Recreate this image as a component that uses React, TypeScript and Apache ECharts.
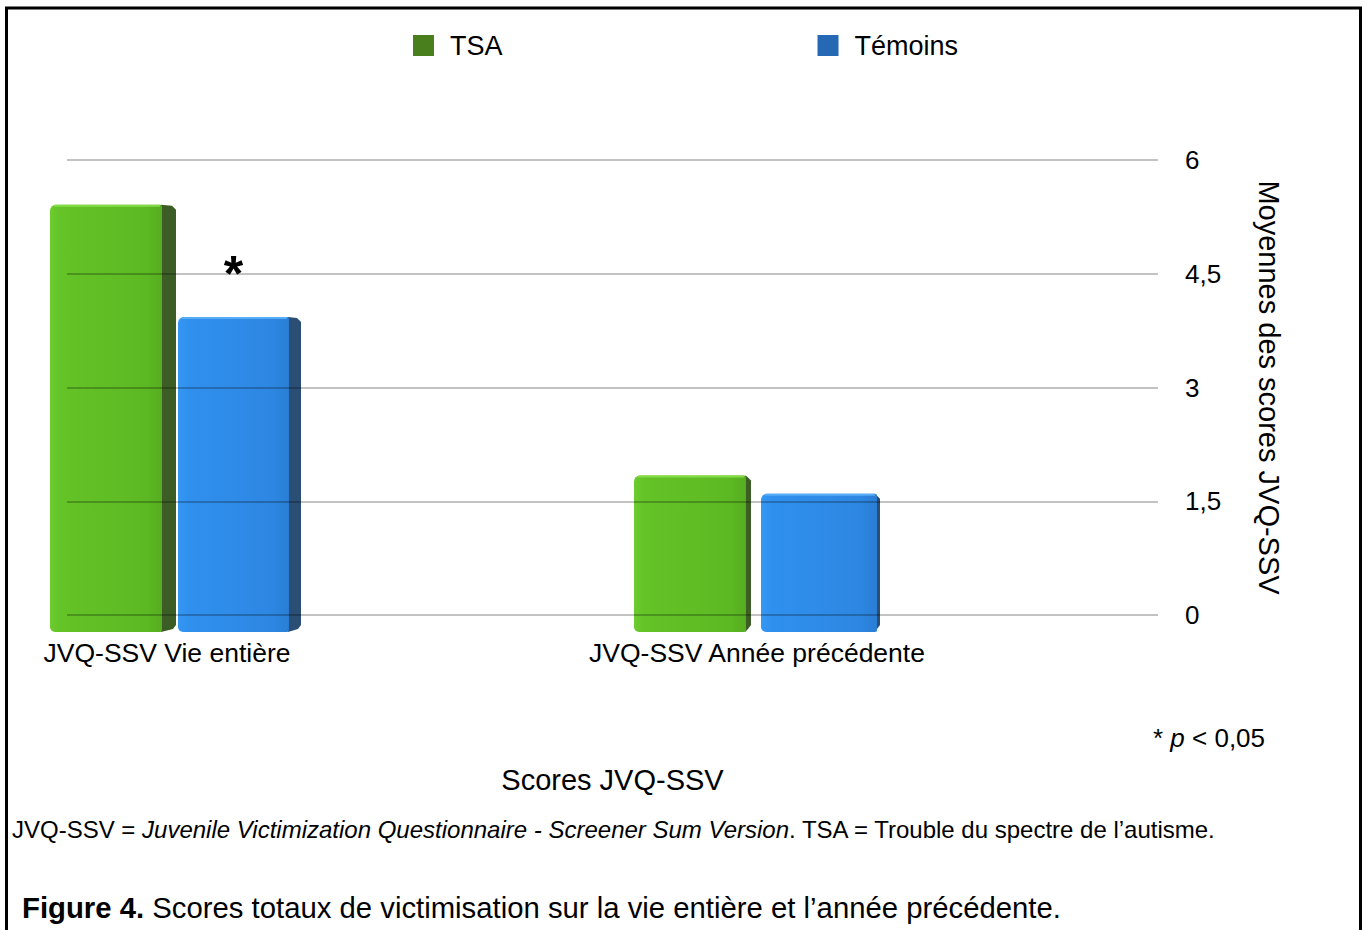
import React, { useEffect, useRef } from 'react';
import * as echarts from 'echarts';

// ---- data ----
const CATEGORIES = ['JVQ-SSV Vie entière', 'JVQ-SSV Année précédente'];
const SERIES_NAMES = ['TSA', 'Témoins'];
const TSA_VALUES = [5.41, 1.84];
const TEMOINS_VALUES = [3.93, 1.6];
const SIGNIFICANCE = ['*', ''];
const Y_MIN = 0;
const Y_MAX = 6;
const Y_STEP = 1.5;
const X_AXIS_NAME = 'Scores JVQ-SSV';
const Y_AXIS_NAME = 'Moyennes des scores JVQ-SSV';
const P_NOTE = ['* ', 'p', ' < 0,05'];
const FOOTNOTE = ['JVQ-SSV = ', 'Juvenile Victimization Questionnaire - Screener Sum Version', '. TSA = Trouble du spectre de l’autisme.'];
const CAPTION = ['Figure 4.', ' Scores totaux de victimisation sur la vie entière et l’année précédente.'];

const FONT = '"Liberation Sans", Arial, Helvetica, sans-serif';

type Look = { front: [string, string, string, string]; side: string; hi: string; legend: string };
const GREEN: Look = { front: ['#6dcc2e', '#64c327', '#5db923', '#56ad20'], side: '#3c5e26', hi: '#86dc45', legend: '#4a7f1e' };
const BLUE: Look = { front: ['#3598f3', '#3090ee', '#2d87e2', '#2a7ed4'], side: '#2a4e74', hi: '#56acf6', legend: '#2568b3' };

// perspective styling: bar extents relative to the category tick, near (t=0) and centre (t=1)
const lerp = (a: number, b: number, t: number) => a + (b - a) * t;

function makeRenderer(pos: 'left' | 'right', look: Look, marks?: string[]) {
  return (params: any, api: any) => {
    const idx = api.value(0);
    const val = api.value(1);
    const topPt = api.coord([idx, val]);
    const basePt = api.coord([idx, 0]);
    const cx = topPt[0];
    const t = Math.max(0, Math.min(1, (cx - 167) / 590));
    const x0 = pos === 'left' ? cx + lerp(-117, -123, t) : cx + lerp(11, 4, t);
    const x1 = pos === 'left' ? cx + lerp(9, -6, t) : cx + lerp(134, 123, t);
    const sideW = Math.max(3, Math.min(14, 14 - (x1 - 176) * 0.0156));
    const xf = x1 - sideW;
    const yTop = topPt[1];
    const yBot = basePt[1] + 17;
    const children: any[] = [
      {
        type: 'polygon',
        shape: {
          points: [
            [xf - 1, yTop],
            [x1 - 4, yTop + 1],
            [x1, yTop + 5],
            [x1, yBot - 7],
            [x1 - 3, yBot - 3],
            [xf - 1, yBot],
          ],
        },
        style: { fill: look.side },
      },
      {
        type: 'rect',
        shape: { x: x0, y: yTop, width: xf - x0, height: yBot - yTop, r: [6, 2, 2, 5] },
        style: {
          fill: {
            type: 'linear', x: 0, y: 0, x2: 1, y2: 0,
            colorStops: [
              { offset: 0, color: look.front[0] },
              { offset: 0.08, color: look.front[1] },
              { offset: 0.85, color: look.front[2] },
              { offset: 1, color: look.front[3] },
            ],
          },
        },
      },
      {
        type: 'line',
        shape: { x1: x0 + 4, y1: yTop + 1, x2: xf - 2, y2: yTop + 1 },
        style: { stroke: look.hi, lineWidth: 2 },
      },
    ];
    const mark = marks ? marks[idx] : '';
    if (mark) {
      children.push({
        type: 'text',
        x: (x0 + xf) / 2,
        y: yTop - 43,
        style: {
          text: mark,
          font: `bold 50px ${FONT}`,
          fill: '#000',
          align: 'center',
          verticalAlign: 'middle',
        },
      });
    }
    return { type: 'group', children };
  };
}

export default function App() {
  const ref = useRef<HTMLDivElement>(null);
  useEffect(() => {
    if (!ref.current) return;
    const chart = echarts.init(ref.current, undefined, { renderer: 'svg' });
    const option: any = {
      animation: false,
      backgroundColor: '#fff',
      textStyle: { fontFamily: FONT },
      legend: {
        left: 413,
        top: 32,
        padding: 0,
        itemGap: 315,
        itemWidth: 21,
        itemHeight: 21,
        icon: 'rect',
        data: SERIES_NAMES,
        textStyle: { fontSize: 27, color: '#000', fontFamily: FONT, padding: [0, 0, 0, 11] },
      },
      grid: [
        { left: 67, right: 210, top: 160, bottom: 315 },
        { left: 167, right: 611, top: 160, bottom: 315 },
      ],
      xAxis: [
        {
          gridIndex: 0, type: 'value', min: 0, max: 1,
          axisLine: { show: false }, axisTick: { show: false }, axisLabel: { show: false }, splitLine: { show: false },
          name: X_AXIS_NAME, nameLocation: 'middle', nameGap: 150,
          nameTextStyle: { fontSize: 29, color: '#000', fontFamily: FONT },
        },
        {
          gridIndex: 1, type: 'category', data: CATEGORIES, boundaryGap: false,
          axisLine: { show: false }, axisTick: { show: false }, splitLine: { show: false },
          axisLabel: { fontSize: 26.5, color: '#000', margin: 24, fontFamily: FONT, interval: 0 },
        },
      ],
      yAxis: [
        {
          gridIndex: 0, type: 'value', position: 'right', min: Y_MIN, max: Y_MAX, interval: Y_STEP, z: 5,
          axisLine: { show: false }, axisTick: { show: false },
          axisLabel: {
            fontSize: 26, color: '#000', margin: 27, fontFamily: FONT,
            formatter: (v: number) => String(v).replace('.', ','),
          },
          splitLine: { lineStyle: { color: 'rgba(0,0,0,0.24)', width: 2 } },
          name: Y_AXIS_NAME, nameLocation: 'middle', nameRotate: -90, nameGap: 96,
          nameTextStyle: { fontSize: 29, color: '#000', fontFamily: FONT },
        },
        { gridIndex: 1, type: 'value', min: Y_MIN, max: Y_MAX, show: false, splitLine: { show: false } },
      ],
      series: [
        {
          name: SERIES_NAMES[0], type: 'custom', xAxisIndex: 1, yAxisIndex: 1, clip: false, z: 2,
          itemStyle: { color: GREEN.legend },
          renderItem: makeRenderer('left', GREEN),
          encode: { x: 0, y: 1 },
          data: TSA_VALUES.map((v, i) => [i, v]),
        },
        {
          name: SERIES_NAMES[1], type: 'custom', xAxisIndex: 1, yAxisIndex: 1, clip: false, z: 2,
          itemStyle: { color: BLUE.legend },
          renderItem: makeRenderer('right', BLUE, SIGNIFICANCE),
          encode: { x: 0, y: 1 },
          data: TEMOINS_VALUES.map((v, i) => [i, v]),
        },
      ],
      graphic: [
        {
          type: 'rect', silent: true, z: 100,
          shape: { x: 6.5, y: 8, width: 1354, height: 940 },
          style: { fill: 'none', stroke: '#000', lineWidth: 3 },
        },
        {
          type: 'text', x: 1153, y: 738, z: 100,
          style: {
            text: `{n|${P_NOTE[0]}}{i|${P_NOTE[1]}}{n|${P_NOTE[2]}}`,
            verticalAlign: 'middle',
            rich: {
              n: { fontSize: 26, fontFamily: FONT, fill: '#000' },
              i: { fontSize: 26, fontFamily: FONT, fontStyle: 'italic', fill: '#000' },
            },
          },
        },
        {
          type: 'text', x: 12, y: 829, z: 100,
          style: {
            text: `{n|${FOOTNOTE[0]}}{i|${FOOTNOTE[1]}}{n|${FOOTNOTE[2]}}`,
            verticalAlign: 'middle',
            rich: {
              n: { fontSize: 24, fontFamily: FONT, fill: '#000' },
              i: { fontSize: 24, fontFamily: FONT, fontStyle: 'italic', fill: '#000' },
            },
          },
        },
        {
          type: 'text', x: 22, y: 907, z: 100,
          style: {
            text: `{b|${CAPTION[0]}}{n|${CAPTION[1]}}`,
            verticalAlign: 'middle',
            rich: {
              b: { fontSize: 29.3, fontFamily: FONT, fontWeight: 'bold', fill: '#000' },
              n: { fontSize: 29.3, fontFamily: FONT, fill: '#000' },
            },
          },
        },
      ],
    };
    chart.setOption(option);
    return () => chart.dispose();
  }, []);
  return (
    <div
      ref={ref}
      style={{ position: 'absolute', left: 0, top: 0, width: 1368, height: 930, background: '#fff' }}
    />
  );
}
